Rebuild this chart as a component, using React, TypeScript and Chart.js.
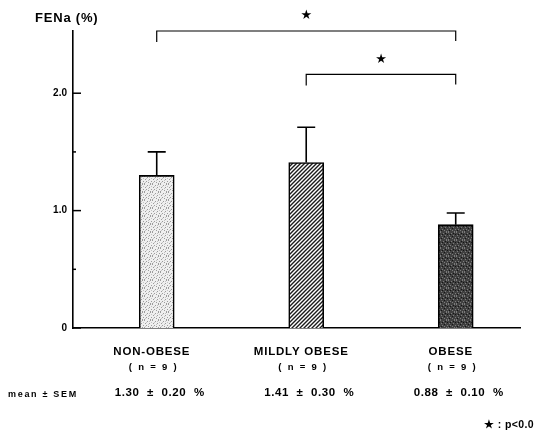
import React, { useEffect, useRef } from "react";
import { Chart, registerables } from "chart.js";

Chart.register(...registerables);

// FENa by obesity group
const categories = ["NON-OBESE", "MILDLY OBESE", "OBESE"];
const groupSizes = ["( n = 9 )", "( n = 9 )", "( n = 9 )"];
const means = [1.3, 1.41, 0.88];
const sems = [0.2, 0.3, 0.1];
const yTicks = [0, 0.5, 1.0, 1.5, 2.0];
const yTickLabels = ["0", "", "1.0", "", "2.0"];
// significant pairwise comparisons (category indexes)
const comparisons: [number, number][] = [
  [0, 2],
  [1, 2],
];
const axisTitle = "FENa (%)";
const rowLabel = "mean \u00b1 SEM";
const footnote = "\u2605 : p<0.0";

const FONT = "'Liberation Sans', Arial, Helvetica, sans-serif";

function makeTile(size: number, draw: (c: CanvasRenderingContext2D) => void) {
  const cv = document.createElement("canvas");
  cv.width = size;
  cv.height = size;
  const c = cv.getContext("2d")!;
  draw(c);
  return cv;
}

function stipple(bg: string, dots: string, alt: string) {
  return makeTile(8, (c) => {
    c.fillStyle = bg;
    c.fillRect(0, 0, 8, 8);
    c.fillStyle = dots;
    const pts = [
      [0, 0], [3, 1], [6, 0], [1, 3], [5, 3], [2, 5], [7, 5], [4, 6], [0, 7], [6, 7],
    ];
    pts.forEach(([x, y]) => c.fillRect(x, y, 1, 1));
    c.fillStyle = alt;
    const pts2 = [[2, 2], [7, 2], [4, 4], [1, 6], [5, 1]];
    pts2.forEach(([x, y]) => c.fillRect(x, y, 1, 1));
  });
}

function hatch() {
  return makeTile(4, (c) => {
    c.fillStyle = "#ffffff";
    c.fillRect(0, 0, 4, 4);
    c.strokeStyle = "#1a1a1a";
    c.lineWidth = 1.4;
    c.beginPath();
    c.moveTo(-1, 5);
    c.lineTo(5, -1);
    c.moveTo(-1, 1);
    c.lineTo(1, -1);
    c.moveTo(3, 5);
    c.lineTo(5, 3);
    c.stroke();
  });
}

const annotations = {
  id: "annotations",
  afterDatasetsDraw(chart: any) {
    const { ctx, scales, chartArea } = chart;
    const x = scales.x;
    const y = scales.y;
    ctx.save();

    // inward tick marks on the value axis
    ctx.strokeStyle = "#000";
    ctx.lineWidth = 1.5;
    yTicks.forEach((v, i) => {
      const py = y.getPixelForValue(v);
      const len = yTickLabels[i] ? 8 : 3;
      ctx.beginPath();
      ctx.moveTo(chartArea.left, py);
      ctx.lineTo(chartArea.left + len, py);
      ctx.stroke();
    });

    // error bars (mean + SEM)
    ctx.lineWidth = 1.6;
    means.forEach((m, i) => {
      const px = x.getPixelForValue(i);
      const top = y.getPixelForValue(m + sems[i]);
      ctx.beginPath();
      ctx.moveTo(px, y.getPixelForValue(m));
      ctx.lineTo(px, top);
      ctx.moveTo(px - 9, top);
      ctx.lineTo(px + 9, top);
      ctx.stroke();
    });

    // significance brackets
    const levels = [2.53, 2.16];
    ctx.lineWidth = 1.2;
    ctx.fillStyle = "#000";
    comparisons.forEach(([a, b], k) => {
      const xa = x.getPixelForValue(a);
      const xb = x.getPixelForValue(b);
      const py = y.getPixelForValue(levels[k]);
      ctx.beginPath();
      ctx.moveTo(xa, py + 11);
      ctx.lineTo(xa, py);
      ctx.lineTo(xb, py);
      ctx.lineTo(xb, py + 10);
      ctx.stroke();
      ctx.font = "bold 13px 'DejaVu Sans', sans-serif";
      ctx.textAlign = "center";
      ctx.textBaseline = "middle";
      ctx.fillText("\u2605", (xa + xb) / 2, py - 15);
    });

    // axis title
    ctx.textAlign = "left";
    ctx.textBaseline = "alphabetic";
    ctx.font = `bold 13px ${FONT}`;
    (ctx as any).letterSpacing = "0.8px";
    ctx.fillText(axisTitle, 35, 22);

    // category labels, group sizes and values under the axis
    const base = chartArea.bottom;
    categories.forEach((name, i) => {
      const px = x.getPixelForValue(i);
      ctx.textAlign = "center";
      ctx.font = `bold 11.5px ${FONT}`;
      (ctx as any).letterSpacing = "0.8px";
      ctx.fillText(name, px - 5, base + 27);
      ctx.font = `bold 9.5px ${FONT}`;
      (ctx as any).letterSpacing = "1.8px";
      ctx.fillText(groupSizes[i], px - 3, base + 42);
      ctx.font = `bold 11.5px ${FONT}`;
      (ctx as any).letterSpacing = "0.6px";
      ctx.fillText(
        `${means[i].toFixed(2)}  \u00b1  ${sems[i].toFixed(2)}  %`,
        px + 3,
        base + 68
      );
    });

    ctx.textAlign = "left";
    ctx.font = `bold 9px ${FONT}`;
    (ctx as any).letterSpacing = "1.7px";
    ctx.fillText(rowLabel, 8, base + 69);

    ctx.font = `bold 10.5px ${FONT}`;
    (ctx as any).letterSpacing = "0.4px";
    ctx.fillText(footnote, 484, base + 100);

    ctx.restore();
  },
};

export default function App() {
  const ref = useRef<HTMLCanvasElement | null>(null);

  useEffect(() => {
    if (!ref.current) return;
    const fills = [
      stipple("#efefef", "#9c9c9c", "#c4c4c4"),
      hatch(),
      stipple("#404040", "#7c7c7c", "#151515"),
    ].map((tile) => ref.current!.getContext("2d")!.createPattern(tile, "repeat"));

    const chart = new Chart(ref.current, {
      type: "bar",
      data: {
        datasets: [
          {
            data: means.map((m, i) => ({ x: i, y: m })),
            backgroundColor: fills as any,
            borderColor: "#000",
            borderWidth: 1.6,
            barThickness: 35,
          },
        ],
      },
      options: {
        animation: false,
        responsive: true,
        maintainAspectRatio: false,
        layout: { padding: { top: 31, bottom: 110, right: 15, left: 0 } },
        plugins: {
          legend: { display: false },
          tooltip: { enabled: false },
        },
        scales: {
          x: {
            type: "linear",
            offset: false,
            min: -0.56,
            max: 2.43,
            grid: { display: false },
            ticks: { display: false },
            border: { display: true, color: "#000", width: 1.6 },
            afterFit: (s: any) => {
              s.height = 0;
            },
          },
          y: {
            min: 0,
            max: 2.53,
            grid: { display: false },
            border: { display: true, color: "#000", width: 1.6 },
            afterBuildTicks: (s: any) => {
              s.ticks = yTicks.map((v) => ({ value: v }));
            },
            ticks: {
              padding: -2,
              color: "#000",
              font: { family: FONT, size: 10, weight: "bold" },
              callback: (_v: any, i: number) => yTickLabels[i],
            },
            afterFit: (s: any) => {
              s.width = 73;
            },
          },
        },
      },
      plugins: [annotations],
    });
    return () => chart.destroy();
  }, []);

  return (
    <div
      style={{
        position: "fixed",
        left: 0,
        top: 0,
        width: 535,
        height: 438,
        background: "#fff",
      }}
    >
      <canvas ref={ref} />
    </div>
  );
}
